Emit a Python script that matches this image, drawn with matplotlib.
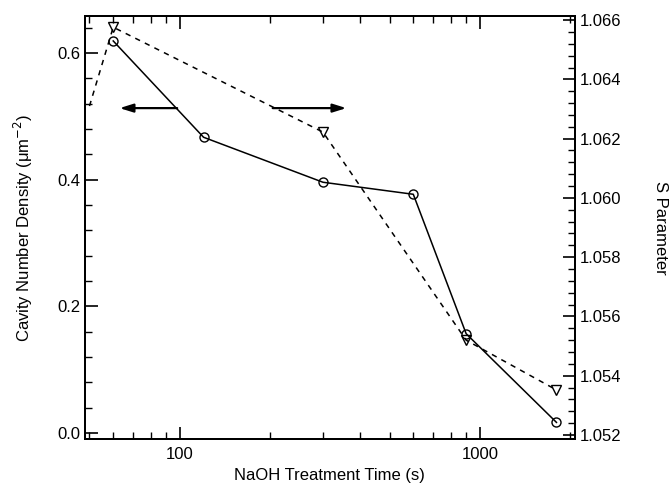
import matplotlib
matplotlib.use("Agg")
import matplotlib.pyplot as plt
from matplotlib.ticker import MultipleLocator, LogLocator, NullFormatter, FuncFormatter

plt.rcParams['font.family'] = ['Liberation Sans', 'DejaVu Sans']

# data
time_s = [60, 120, 300, 600, 900, 1800]
cavity_density = [0.619, 0.467, 0.396, 0.377, 0.157, 0.017]

s_time = [50, 60, 300, 900, 1800]
s_param = [1.0631, 1.06576, 1.06222, 1.0552, 1.05352]

fig = plt.figure(figsize=(6.69, 4.92), dpi=100)
ax = fig.add_axes([0.127, 0.108, 0.732, 0.859])
ax2 = ax.twinx()

ax.plot(time_s, cavity_density, color='black', lw=1.1, marker='o',
        ms=6.5, mfc='none', mec='black', mew=1.0)
ax2.plot(s_time, s_param, color='black', lw=1.1, ls=(0, (3.5, 3.5)),
         marker='v', ms=7.5, mfc='none', mec='black', mew=1.0,
         markevery=[1, 2, 3, 4])

ax.set_xscale('log')
ax.set_xlim(48.3, 2070)
ax.set_ylim(-0.009, 0.658)
ax2.set_ylim(1.05187, 1.06613)

ax.yaxis.set_major_locator(MultipleLocator(0.2))
ax.yaxis.set_minor_locator(MultipleLocator(0.04))
ax.yaxis.set_major_formatter(matplotlib.ticker.FormatStrFormatter('%.1f'))
ax2.yaxis.set_major_locator(MultipleLocator(0.002))
ax2.yaxis.set_minor_locator(MultipleLocator(0.0004))
ax2.yaxis.set_major_formatter(matplotlib.ticker.FormatStrFormatter('%.3f'))
ax.xaxis.set_major_locator(LogLocator(base=10, numticks=10))
ax.xaxis.set_minor_locator(LogLocator(base=10, subs=range(2, 10), numticks=10))
ax.xaxis.set_major_formatter(FuncFormatter(lambda v, p: f"{v:g}"))
ax.xaxis.set_minor_formatter(NullFormatter())

ax.tick_params(axis='x', which='both', direction='in', top=True, labelsize=12, pad=6)
ax.tick_params(axis='y', which='both', direction='in', right=False, labelsize=12)
ax.tick_params(which='major', length=9, width=1.2)
ax.tick_params(which='minor', length=5, width=1.0)
ax2.tick_params(axis='y', which='both', direction='in', labelsize=12)
ax2.tick_params(which='major', length=9, width=1.2)
ax2.tick_params(which='minor', length=5, width=1.0)

for a in (ax, ax2):
    for sp in a.spines.values():
        sp.set_linewidth(1.4)

ax.set_xlabel('NaOH Treatment Time (s)', fontsize=12, labelpad=4)
ax.set_ylabel('Cavity Number Density (μm$^{-2}$)', fontsize=12, labelpad=16)
ax2.set_ylabel('S Parameter', fontsize=12, rotation=270, labelpad=34)

# arrows pointing to the matching axis
arrow_y = 0.513
ax.annotate('', xy=(63, arrow_y), xytext=(98, arrow_y),
            arrowprops=dict(arrowstyle='-|>,head_length=0.8,head_width=0.25',
                            color='black', lw=1.6,
                            mutation_scale=10, shrinkA=0, shrinkB=0))
ax.annotate('', xy=(359, arrow_y), xytext=(204, arrow_y),
            arrowprops=dict(arrowstyle='-|>,head_length=0.8,head_width=0.25',
                            color='black', lw=1.6,
                            mutation_scale=10, shrinkA=0, shrinkB=0))

fig.savefig('out.png', dpi=100)
